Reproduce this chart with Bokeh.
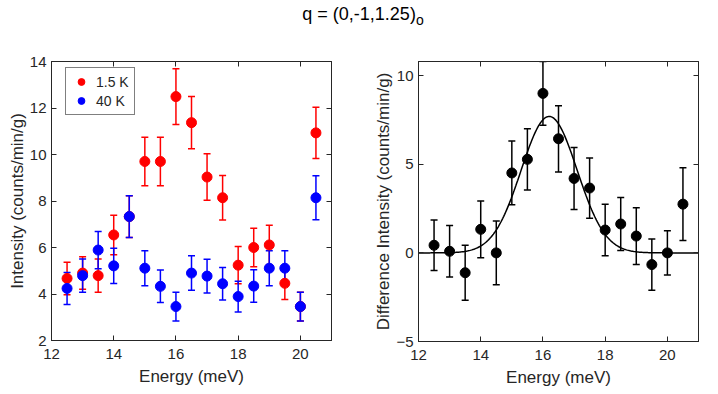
import numpy as np
from bokeh.plotting import figure
from bokeh.models import (ColumnDataSource, Whisker, TeeHead, LinearAxis, Legend,
                          LegendItem, Div, FixedTicker, Range1d, Spacer)
from bokeh.layouts import row, column
from bokeh.embed import file_html
from bokeh.resources import INLINE

# ---------------- data ----------------
energy = [12.5, 13.0, 13.5, 14.0, 14.5, 15.0, 15.5, 16.0, 16.5,
          17.0, 17.5, 18.0, 18.5, 19.0, 19.5, 20.0, 20.5]
i_1p5K = [4.67, 4.90, 4.79, 6.54, 7.33, 9.70, 9.70, 12.49, 11.37,
          9.03, 8.14, 5.24, 6.00, 6.11, 4.46, 3.46, 10.93]
e_1p5K = [0.70, 0.70, 0.72, 0.85, 0.90, 1.04, 1.04, 1.20, 1.12,
          1.00, 0.96, 0.80, 0.83, 0.85, 0.70, 0.62, 1.10]
i_40K = [4.24, 4.79, 5.89, 5.21, 7.33, 5.11, 4.33, 3.46, 4.90,
         4.77, 4.44, 3.89, 4.34, 5.11, 5.11, 3.46, 8.14]
e_40K = [0.69, 0.72, 0.80, 0.76, 0.90, 0.75, 0.70, 0.62, 0.74,
         0.73, 0.70, 0.66, 0.70, 0.75, 0.75, 0.62, 0.95]
diff = [0.43, 0.09, -1.12, 1.33, 0.0, 4.51, 5.28, 9.00, 6.44,
        4.20, 3.66, 1.29, 1.63, 0.95, -0.66, 0.0, 2.75]
diff_err = [1.42, 1.45, 1.55, 1.60, 1.80, 1.80, 1.73, 1.80, 1.87,
            1.75, 1.70, 1.45, 1.50, 1.60, 1.45, 1.25, 2.05]
# Gaussian fit parameters
fit_amp = 7.7
fit_center = 16.2
fit_sigma = 0.9

x_ticks = [12, 14, 16, 18, 20]
y_ticks_left = [2, 4, 6, 8, 10, 12, 14]
y_ticks_right = [-5, 0, 5, 10]

FONT = "Liberation Sans"
AX = "#262626"


def make_src(x, y, e):
    x = np.array(x); y = np.array(y); e = np.array(e)
    return ColumnDataSource(dict(x=x, y=y, lo=y - e, hi=y + e))


def style(p, yticks, xlabel, ylabel, ylabel_standoff):
    bottom, left = p.below[0], p.left[0]
    bottom.ticker = FixedTicker(ticks=x_ticks)
    left.ticker = FixedTicker(ticks=yticks)
    bottom.axis_label = xlabel
    left.axis_label = ylabel
    top = LinearAxis(ticker=FixedTicker(ticks=x_ticks))
    right = LinearAxis(ticker=FixedTicker(ticks=yticks))
    p.add_layout(top, "above")
    p.add_layout(right, "right")
    for ax in (bottom, left, top, right):
        ax.major_tick_in = 5
        ax.major_tick_out = 0
        ax.minor_tick_line_color = None
        ax.axis_line_color = AX
        ax.major_tick_line_color = AX
        ax.major_label_text_font = FONT
        ax.major_label_text_font_size = "15px"
        ax.major_label_text_color = AX
        ax.axis_label_text_font = FONT
        ax.axis_label_text_font_size = "17px"
        ax.axis_label_text_font_style = "normal"
        ax.axis_label_text_color = AX
    for ax in (top, right):
        ax.major_label_text_color = None
        ax.major_label_text_font_size = "0px"
        ax.major_label_standoff = 0
        ax.major_label_overrides = {t: "" for t in ax.ticker.ticks}
    bottom.major_label_standoff = 8
    bottom.axis_label_standoff = 5
    left.major_label_standoff = 5
    left.axis_label_standoff = ylabel_standoff
    p.grid.visible = False
    p.outline_line_color = AX
    p.background_fill_color = "white"
    p.border_fill_color = "white"


def errbars(p, src, color):
    w = Whisker(source=src, base="x", upper="hi", lower="lo",
                line_color=color, line_width=1.5,
                upper_head=TeeHead(size=7, line_color=color, line_width=1.5),
                lower_head=TeeHead(size=7, line_color=color, line_width=1.5))
    p.add_layout(w)


# ---------------- left panel ----------------
p1 = figure(frame_width=280, frame_height=279, x_range=Range1d(12, 21),
            y_range=Range1d(2, 14), output_backend="svg", toolbar_location=None,
            min_border_left=45, min_border_right=25, min_border_top=23,
            min_border_bottom=48)
style(p1, y_ticks_left, "Energy (meV)", "Intensity (counts/min/g)", 0)

s_red = make_src(energy, i_1p5K, e_1p5K)
s_blue = make_src(energy, i_40K, e_40K)
errbars(p1, s_red, "#FF0000")
errbars(p1, s_blue, "#0000FF")
r_red = p1.scatter("x", "y", source=s_red, size=10, color="#FF0000")
r_blue = p1.scatter("x", "y", source=s_blue, size=10, color="#0000FF")

leg = Legend(items=[LegendItem(label="1.5 K", renderers=[r_red]),
                    LegendItem(label="40 K", renderers=[r_blue])],
             location=(14, 225), margin=0, padding=5, spacing=2,
             label_text_font=FONT, label_text_font_size="14px",
             label_text_color=AX, label_height=16, glyph_height=17,
             glyph_width=20, label_standoff=5,
             border_line_color="#000000", border_line_width=1.2,
             background_fill_alpha=1.0)
p1.add_layout(leg)

# ---------------- right panel ----------------
p2 = figure(frame_width=280, frame_height=280, x_range=Range1d(12, 21),
            y_range=Range1d(-5, 10.8), output_backend="svg", toolbar_location=None,
            min_border_left=62, min_border_right=5, min_border_top=22,
            min_border_bottom=48)
style(p2, y_ticks_right, "Energy (meV)", "Difference Intensity (counts/min/g)", 0)

fx = np.linspace(12, 21, 300)
fy = fit_amp * np.exp(-(fx - fit_center) ** 2 / (2 * fit_sigma ** 2))
p2.line(fx, fy, line_color="#000000", line_width=1.5)
s_diff = make_src(energy, diff, diff_err)
errbars(p2, s_diff, "#000000")
p2.scatter("x", "y", source=s_diff, size=10, color="#000000")

title = Div(text='q = (0,-1,1.25)<sub style="font-size:14px">o</sub>',
            width=702, height=28,
            styles={"font-family": FONT, "font-size": "18px", "color": "#000000",
                    "text-align": "center", "padding-left": "14px",
                    "box-sizing": "border-box", "line-height": "1.1"})

layout = column(title, row(Spacer(width=4, height=10), p1, p2))
open("out.html", "w").write(file_html(layout, INLINE))
